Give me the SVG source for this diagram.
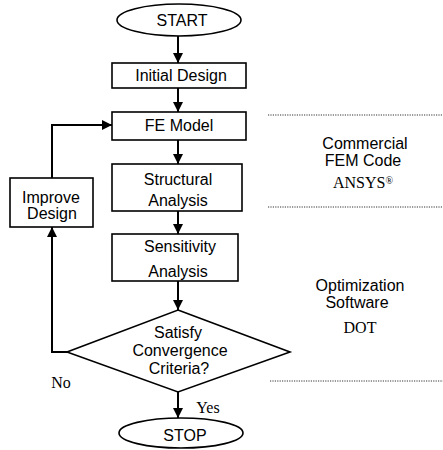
<svg xmlns="http://www.w3.org/2000/svg" width="443" height="450" viewBox="0 0 443 450">
<defs>
<marker id="ah" markerUnits="userSpaceOnUse" markerWidth="10" markerHeight="10" refX="10" refY="5" orient="auto" viewBox="0 0 10 10">
<path d="M0,0 L10,5 L0,10 z" fill="#000"/>
</marker>
<style>
.shape{fill:#fff;stroke:#000;stroke-width:1.6}
.t{font-family:"Liberation Sans",Arial,sans-serif;font-size:16px;fill:#000;text-anchor:middle}
.s{font-family:"Liberation Serif","Times New Roman",serif;font-size:16px;fill:#000;text-anchor:middle}
.c{fill:none;stroke:#000;stroke-width:2}
.d{fill:none;stroke:#333;stroke-width:1;stroke-dasharray:1.2 1.2}
</style>
</defs>
<rect width="443" height="450" fill="#fff"/>
<g id="connectors">
<line class="c" x1="178" y1="36" x2="178" y2="63" marker-end="url(#ah)"/>
<line class="c" x1="178" y1="88" x2="178" y2="112" marker-end="url(#ah)"/>
<line class="c" x1="178" y1="140" x2="178" y2="164" marker-end="url(#ah)"/>
<line class="c" x1="178" y1="211" x2="178" y2="234" marker-end="url(#ah)"/>
<line class="c" x1="178" y1="281" x2="178" y2="310" marker-end="url(#ah)"/>
<line class="c" x1="178" y1="392" x2="178" y2="418" marker-end="url(#ah)"/>
<polyline class="c" points="67,352 52,352 52,227" marker-end="url(#ah)"/>
<polyline class="c" points="52,178 52,125 112,125" marker-end="url(#ah)"/>
</g>
<g id="start">
<ellipse class="shape" cx="179" cy="20" rx="62" ry="16"/>
<text class="t" x="182" y="26">START</text>
</g>
<g id="initial-design">
<rect class="shape" x="112" y="63" width="134" height="25"/>
<text class="t" x="181" y="81">Initial Design</text>
</g>
<g id="fe-model">
<rect class="shape" x="112" y="112" width="134" height="28"/>
<text class="t" x="179" y="131">FE Model</text>
</g>
<g id="structural-analysis">
<rect class="shape" x="112" y="164" width="130" height="47"/>
<text class="t" x="178" y="185">Structural</text>
<text class="t" x="178" y="206">Analysis</text>
</g>
<g id="sensitivity-analysis">
<rect class="shape" x="112" y="234" width="126" height="47"/>
<text class="t" x="180" y="252">Sensitivity</text>
<text class="t" x="178" y="277">Analysis</text>
</g>
<g id="convergence">
<polygon class="shape" points="178,310 290,352 178,392 67,352"/>
<text class="t" x="178" y="338">Satisfy</text>
<text class="t" x="180" y="356">Convergence</text>
<text class="t" x="179" y="374">Criteria?</text>
</g>
<g id="stop">
<ellipse class="shape" cx="181" cy="433" rx="62" ry="15"/>
<text class="t" x="185" y="441">STOP</text>
</g>
<g id="improve-design">
<rect class="shape" x="10" y="178" width="83" height="49"/>
<text class="t" x="51" y="203">Improve</text>
<text class="t" x="52" y="219">Design</text>
</g>
<g id="labels">
<text class="s" x="208" y="413">Yes</text>
<text class="s" x="61" y="388">No</text>
<line class="d" x1="268" y1="115" x2="443" y2="115"/>
<line class="d" x1="268" y1="207" x2="443" y2="207"/>
<line class="d" x1="270" y1="381" x2="443" y2="381"/>
<text class="t" x="365" y="149">Commercial</text>
<text class="t" x="363" y="166">FEM Code</text>
<text class="s" x="363" y="188">ANSYS<tspan font-size="10" dy="-4">®</tspan></text>
<text class="t" x="360" y="291">Optimization</text>
<text class="t" x="357" y="308">Software</text>
<text class="s" x="360" y="333">DOT</text>
</g>
</svg>
